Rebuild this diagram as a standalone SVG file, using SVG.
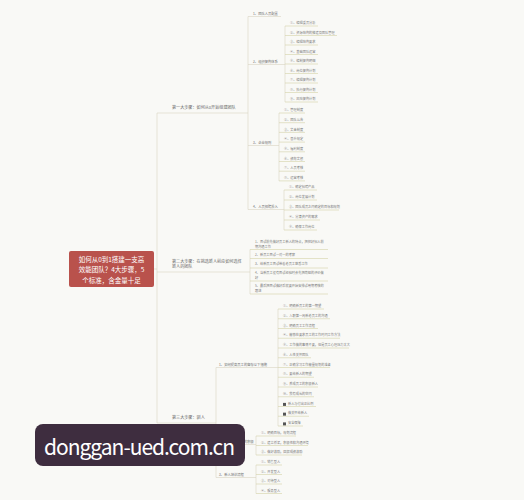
<svg xmlns="http://www.w3.org/2000/svg" width="524" height="500" viewBox="0 0 524 500">
<style>
text{font-family:"Noto Sans CJK SC","Noto Sans",sans-serif}
.b{font-size:4.1px;fill:#6a6a6a}
.m{font-size:3.3px;fill:#6e6e6e}
.l{font-size:3.2px;fill:#7a7a7a}
.c{stroke:#d9d4c3;stroke-width:0.6;fill:none}
.u{stroke:#d3d2a8;stroke-width:0.6;fill:none}
.ct{font-size:6.5px;fill:#ffffff;text-anchor:middle}
.ic{fill:#555}
</style>
<rect width="524" height="500" fill="#f9f9f6"/>
<g id="connectors">
<path class="c" d="M154 269H157M157 113V423M157 113H248M157 272H250M157 423H216"/>
<path class="c" d="M248 16.5V209.5M248 16.5H281M248 64.5H285M248 145.5H279M248 209.5H284"/>
<path class="c" d="M285 26V102M279 113V181M284 190V230M250 249.5V294M216 367.5V477.5"/>
<path class="c" d="M216 367.5H278M216 444.5H256M216 477.5H256M278 309V426M256 436V455M256 465V493.5"/>
<path class="u" d="M285 26H318M285 35.5H337M285 45H318M285 54.5H318M285 64H318M285 73.5H318M285 83H318M285 92.5H318M285 102H318"/>
<path class="u" d="M279 113H305M279 122.7H305M279 132.4H305M279 142.1H305M279 151.8H305M279 161.5H305M279 171.2H305M279 180.9H305"/>
<path class="u" d="M284 190H317M284 200H317M284 210H339M284 220H320M284 230H317"/>
<path class="u" d="M250 249.5H328M250 258.5H328M250 268H328M250 281H328M250 294H328"/>
<path class="u" d="M278 309H324M278 318.75H330M278 328.5H318M278 338.25H340M278 348H349M278 357.75H311M278 367.5H330M278 377.25H314M278 387H318M278 396.75H314M278 406.5H316M278 416.25H309M278 426H303"/>
<path class="u" d="M256 436H296M256 445.5H308M256 455H302M256 465H282M256 474.5H282M256 484H282M256 493.5H282"/>
</g>
<g id="center">
<rect x="69" y="251" width="85" height="36" rx="2" fill="#b9524c"/>
<text class="ct" x="111.5" y="261.5">如何从0到1搭建一支高</text>
<text class="ct" x="111.5" y="272">效能团队？4大步骤，5</text>
<text class="ct" x="111.5" y="282.5">个标准，含金量十足</text>
</g>
<g id="step1"><text class="b" x="172" y="108.5">第一大步骤：如何从0开始组建团队</text></g>
<g id="step2"><text class="b" x="172" y="262.5">第二大步骤：在挑选新人前应如何选择</text><text class="b" x="172" y="267.8">新人的团队</text></g>
<g id="step3"><text class="b" x="172" y="418.5">第三大步骤：驯人</text></g>
<g id="s1-1"><text class="m" x="253" y="15.2">1、团队人员配置</text></g>
<g id="s1-2"><text class="m" x="253" y="63.2">2、组织架构体系</text></g>
<g id="s1-3"><text class="m" x="253" y="144.2">3、企业规则</text></g>
<g id="s1-4"><text class="m" x="253" y="208.2">4、人员招聘投入</text></g>
<g id="s1-2-leaves">
<text class="l" x="290" y="24.2">①、编辑委员分析</text>
<text class="l" x="290" y="33.7">②、资源结构的搭建及团队管理</text>
<text class="l" x="290" y="43.2">③、编辑结构要求</text>
<text class="l" x="290" y="52.7">④、基础团队运营</text>
<text class="l" x="290" y="62.2">⑤、编制架构明细</text>
<text class="l" x="290" y="71.7">⑥、岗位架构计划</text>
<text class="l" x="290" y="81.2">⑦、编辑架构计划</text>
<text class="l" x="290" y="90.7">⑧、执行架构计划</text>
<text class="l" x="290" y="100.2">⑨、风险架构计划</text>
</g>
<g id="s1-3-leaves">
<text class="l" x="284" y="111.2">①、管理制度</text>
<text class="l" x="284" y="120.9">②、团队公告</text>
<text class="l" x="284" y="130.6">③、奖金制度</text>
<text class="l" x="284" y="140.3">④、晋升规定</text>
<text class="l" x="284" y="150">⑤、福利制度</text>
<text class="l" x="284" y="159.7">⑥、绩效奖惩</text>
<text class="l" x="284" y="169.4">⑦、人员考核</text>
<text class="l" x="284" y="179.1">⑧、运营考核</text>
</g>
<g id="s1-4-leaves">
<text class="l" x="289" y="188.2">①、确定招聘产品</text>
<text class="l" x="289" y="198.2">②、岗位发展计划</text>
<text class="l" x="289" y="208.2">③、团队成员之间确定的目标和规划</text>
<text class="l" x="289" y="218.2">④、分清资产的需求</text>
<text class="l" x="289" y="228.2">⑤、确保工作岗位</text>
</g>
<g id="s2-items">
<text class="l" x="255" y="243">1、面试前先做好员工新人的特点，把控好招人前</text>
<text class="l" x="255" y="247.5">期沟通工作</text>
<text class="l" x="255" y="255.5">2、新员工面试一对一的考察</text>
<text class="l" x="255" y="264.8">3、给新员工面试带着老员工熟悉工作</text>
<text class="l" x="255" y="274.3">4、当新员工没有面试经验时会先把简短的评价做</text>
<text class="l" x="255" y="278.8">好</text>
<text class="l" x="255" y="287.3">5、最后把面试做好后就要开始安排试用期考核的</text>
<text class="l" x="255" y="291.8">跟进</text>
</g>
<g id="s3-1"><text class="m" x="219" y="366.2">1、如何提高员工的留存以下措施</text></g>
<g id="s3-2"><text class="m" x="219" y="443.2">2、如何激发新人的积极</text></g>
<g id="s3-3"><text class="m" x="219" y="476.2">3、新人培训流程</text></g>
<g id="s3-1-leaves">
<text class="l" x="283" y="307.2">①、明确新员工的第一期望</text>
<text class="l" x="283" y="316.95">②、入职第一周新老员工的沟通</text>
<text class="l" x="283" y="326.7">③、明确员工工作流程</text>
<text class="l" x="283" y="336.45">④、能够在要求员工的工作时间工作方法</text>
<text class="l" x="283" y="346.2">⑤、工作做的事情不要，但是员工心理压力太大</text>
<text class="l" x="283" y="355.95">⑥、人性关怀团队</text>
<text class="l" x="283" y="365.7">⑦、正确学习工作能量规划的准备</text>
<text class="l" x="283" y="375.45">⑧、要给新人的期望</text>
<text class="l" x="283" y="385.2">⑨、养成员工的积极新人</text>
<text class="l" x="283" y="394.95">⑩、我有成长的空间</text>
<rect class="ic" x="283" y="402.9" width="3" height="3"/><text class="l" x="288" y="404.7">新人与付出正比例</text>
<rect class="ic" x="283" y="412.65" width="3" height="3"/><text class="l" x="288" y="414.45">做关怀给新人</text>
<rect class="ic" x="283" y="422.4" width="3" height="3"/><text class="l" x="288" y="424.2">安全保障</text>
</g>
<g id="s3-2-leaves">
<text class="l" x="261" y="434.2">①、明确目标，规划流程</text>
<text class="l" x="261" y="443.7">②、建立桥梁，积极性和沟通环境</text>
<text class="l" x="261" y="453.2">③、做好激励，回报成绩激励</text>
</g>
<g id="s3-3-leaves">
<text class="l" x="261" y="463.2">①、销售型人</text>
<text class="l" x="261" y="472.7">②、开发型人</text>
<text class="l" x="261" y="482.2">③、对待型人</text>
<text class="l" x="261" y="491.7">④、服务型人</text>
</g>
<g id="watermark">
<rect x="35" y="424" width="210" height="42" rx="8" fill="#3e2d3f"/>
<text x="44" y="455" font-family="'Open Sans',sans-serif" font-size="21" fill="#ffffff" textLength="191">donggan-ued.com.cn</text>
</g>
</svg>
